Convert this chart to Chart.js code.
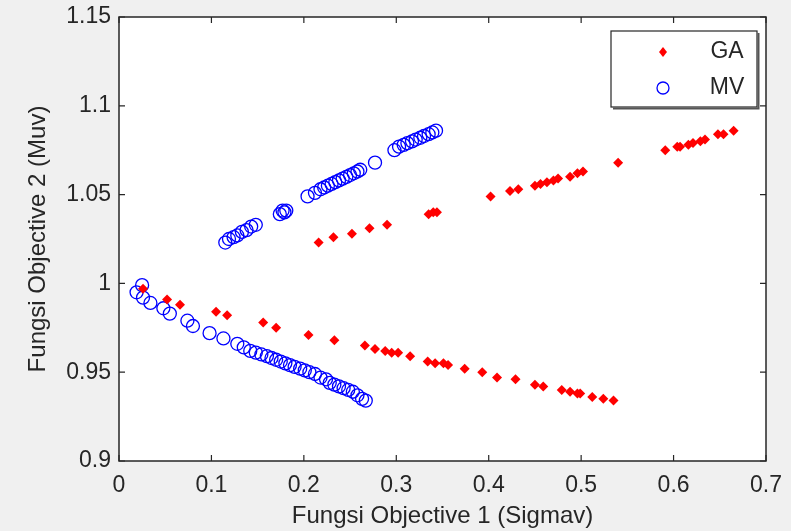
<!DOCTYPE html>
<html lang="en">
<head>
    <meta charset="UTF-8">
    <title>Fungsi Objective GA vs MV</title>
    <script src="https://cdn.jsdelivr.net/npm/chart.js"></script>
    <style>
        html, body { margin: 0; padding: 0; background: #f0f0f0; }
        .box { width: 791px; height: 531px; }
    </style>
</head>
<body>
    <div class="box">
        <canvas id="paretoChart" width="791" height="531"></canvas>
    </div>

    <script>
        // GA front (Sigmav, Muv)
        const gaSigma = [0.216, 0.232, 0.252, 0.271, 0.290, 0.335, 0.340, 0.344, 0.402, 0.423, 0.432, 0.450, 0.456, 0.463, 0.470, 0.475, 0.488, 0.496, 0.502, 0.540, 0.591, 0.604, 0.607, 0.616, 0.621, 0.629, 0.634, 0.648, 0.654, 0.665,
            0.026, 0.052, 0.066, 0.105, 0.117, 0.156, 0.170, 0.205, 0.233, 0.266, 0.277, 0.288, 0.295, 0.302, 0.315, 0.334, 0.342, 0.351, 0.356, 0.374, 0.393, 0.409, 0.429, 0.450, 0.459, 0.479, 0.488, 0.496, 0.499, 0.512, 0.524, 0.535];
        const gaMuv = [1.023, 1.026, 1.028, 1.031, 1.033, 1.039, 1.040, 1.040, 1.049, 1.052, 1.053, 1.055, 1.056, 1.057, 1.058, 1.059, 1.060, 1.062, 1.063, 1.068, 1.075, 1.077, 1.077, 1.078, 1.079, 1.080, 1.081, 1.084, 1.084, 1.086,
            0.997, 0.991, 0.988, 0.984, 0.982, 0.978, 0.975, 0.971, 0.968, 0.965, 0.963, 0.962, 0.961, 0.961, 0.959, 0.956, 0.955, 0.955, 0.954, 0.952, 0.950, 0.947, 0.946, 0.943, 0.942, 0.940, 0.939, 0.938, 0.938, 0.936, 0.935, 0.934];

        // MV front (Sigmav, Muv)
        const mvSigma = [0.115, 0.119, 0.124, 0.128, 0.133, 0.138, 0.143, 0.148, 0.174, 0.177, 0.179, 0.181,
            0.204, 0.212, 0.218, 0.222, 0.226, 0.230, 0.234, 0.238, 0.242, 0.246, 0.250, 0.254, 0.258, 0.261, 0.277,
            0.298, 0.303, 0.308, 0.312, 0.317, 0.321, 0.326, 0.330, 0.335, 0.339, 0.343,
            0.025, 0.019, 0.026, 0.034, 0.048, 0.055, 0.074, 0.080, 0.098, 0.113, 0.128, 0.135, 0.142, 0.148, 0.154, 0.160, 0.165, 0.170, 0.175, 0.180, 0.185, 0.190, 0.196, 0.201, 0.206, 0.212, 0.218, 0.224, 0.228, 0.233, 0.238, 0.243, 0.248, 0.253, 0.258, 0.263, 0.267];
        const mvMuv = [1.023, 1.025, 1.026, 1.027, 1.029, 1.030, 1.032, 1.033, 1.039, 1.041, 1.040, 1.041,
            1.049, 1.051, 1.053, 1.054, 1.055, 1.056, 1.057, 1.058, 1.059, 1.060, 1.061, 1.062, 1.063, 1.064, 1.068,
            1.075, 1.077, 1.078, 1.079, 1.080, 1.081, 1.082, 1.083, 1.084, 1.085, 1.086,
            0.999, 0.995, 0.992, 0.989, 0.986, 0.983, 0.979, 0.976, 0.972, 0.969, 0.966, 0.964, 0.962, 0.961, 0.960, 0.959, 0.958, 0.957, 0.956, 0.955, 0.954, 0.953, 0.952, 0.951, 0.950, 0.949, 0.947, 0.946, 0.944, 0.943, 0.942, 0.941, 0.940, 0.939, 0.937, 0.935, 0.934];

        const xTicks = [0, 0.1, 0.2, 0.3, 0.4, 0.5, 0.6, 0.7];
        const yTicks = [0.9, 0.95, 1, 1.05, 1.1, 1.15];
        const seriesNames = ['GA', 'MV'];

        const fontFamily = '"Liberation Sans Narrow", "Arial Narrow", "Liberation Sans", sans-serif';
        const textColor = '#262626';

        // matlab-like box with inward ticks on all four sides, plus legend
        const axesBox = {
            id: 'axesBox',
            beforeDatasetsDraw(chart) {
                const { ctx, chartArea: a } = chart;
                ctx.save();
                ctx.fillStyle = '#ffffff';
                ctx.fillRect(a.left, a.top, a.right - a.left, a.bottom - a.top);
                ctx.restore();
            },
            afterDraw(chart) {
                const { ctx, chartArea: a, scales } = chart;
                ctx.save();
                ctx.strokeStyle = '#262626';
                ctx.lineWidth = 1.5;
                ctx.strokeRect(a.left, a.top, a.right - a.left, a.bottom - a.top);
                ctx.lineWidth = 1.2;
                ctx.beginPath();
                xTicks.forEach(v => {
                    const x = scales.x.getPixelForValue(v);
                    ctx.moveTo(x, a.bottom); ctx.lineTo(x, a.bottom - 6);
                    ctx.moveTo(x, a.top); ctx.lineTo(x, a.top + 6);
                });
                yTicks.forEach(v => {
                    const y = scales.y.getPixelForValue(v);
                    ctx.moveTo(a.left, y); ctx.lineTo(a.left + 6, y);
                    ctx.moveTo(a.right, y); ctx.lineTo(a.right - 6, y);
                });
                ctx.stroke();

                // legend box
                const lx = 611, ly = 31, lw = 146, lh = 76;
                ctx.fillStyle = '#ffffff';
                ctx.fillRect(lx, ly, lw, lh);
                ctx.lineWidth = 1.2;
                ctx.strokeStyle = '#262626';
                ctx.strokeRect(lx, ly, lw, lh);
                ctx.lineWidth = 2;
                ctx.strokeStyle = '#555555';
                ctx.beginPath();
                ctx.moveTo(lx + 2, ly + lh + 1.5); ctx.lineTo(lx + lw + 1.5, ly + lh + 1.5); ctx.lineTo(lx + lw + 1.5, ly + 2);
                ctx.stroke();

                // GA marker
                ctx.fillStyle = '#ff0000';
                ctx.beginPath();
                ctx.moveTo(663, 47); ctx.lineTo(667, 52); ctx.lineTo(663, 57); ctx.lineTo(659, 52);
                ctx.closePath();
                ctx.fill();
                // MV marker
                ctx.strokeStyle = '#0000ff';
                ctx.lineWidth = 1.3;
                ctx.beginPath();
                ctx.arc(663, 88, 6, 0, Math.PI * 2);
                ctx.stroke();

                ctx.fillStyle = textColor;
                ctx.font = '23px ' + fontFamily;
                ctx.textAlign = 'center';
                ctx.textBaseline = 'middle';
                ctx.fillText(seriesNames[0], 727, 52);
                ctx.fillText(seriesNames[1], 727, 88);
                ctx.restore();
            }
        };

        const toPoints = (xs, ys) => xs.map((x, i) => ({ x: x, y: ys[i] }));

        new Chart(document.getElementById('paretoChart').getContext('2d'), {
            type: 'scatter',
            data: {
                datasets: [
                    {
                        label: seriesNames[0],
                        data: toPoints(gaSigma, gaMuv),
                        pointStyle: 'rectRot',
                        pointRadius: 5,
                        backgroundColor: '#ff0000',
                        borderColor: '#ff0000',
                        borderWidth: 0
                    },
                    {
                        label: seriesNames[1],
                        data: toPoints(mvSigma, mvMuv),
                        pointStyle: 'circle',
                        pointRadius: 6.5,
                        backgroundColor: 'rgba(0,0,0,0)',
                        borderColor: '#0000ff',
                        borderWidth: 1.3
                    }
                ]
            },
            options: {
                responsive: false,
                animation: false,
                layout: { padding: { top: 17, right: 25, left: 0, bottom: 0 } },
                plugins: {
                    legend: { display: false },
                    tooltip: { enabled: false }
                },
                scales: {
                    x: {
                        type: 'linear',
                        min: 0,
                        max: 0.7,
                        afterBuildTicks: s => { s.ticks = xTicks.map(v => ({ value: v })); },
                        afterFit: s => { s.height = 70; },
                        grid: { display: false },
                        border: { display: false },
                        ticks: {
                            color: textColor,
                            padding: 3,
                            font: { family: fontFamily, size: 23 },
                            callback: v => String(v)
                        },
                        title: {
                            display: true,
                            text: 'Fungsi Objective 1 (Sigmav)',
                            color: textColor,
                            font: { family: fontFamily, size: 24 },
                            padding: { top: 0, bottom: 0 }
                        }
                    },
                    y: {
                        type: 'linear',
                        min: 0.9,
                        max: 1.15,
                        afterBuildTicks: s => { s.ticks = yTicks.map(v => ({ value: v })); },
                        afterFit: s => { s.width = 119; },
                        grid: { display: false },
                        border: { display: false },
                        ticks: {
                            color: textColor,
                            padding: 0,
                            font: { family: fontFamily, size: 23 },
                            callback: v => String(v)
                        },
                        title: {
                            display: true,
                            text: 'Fungsi Objective 2 (Muv)',
                            color: textColor,
                            font: { family: fontFamily, size: 24 },
                            padding: { top: 24, bottom: 0 }
                        }
                    }
                }
            },
            plugins: [axesBox]
        });
    </script>
</body>
</html>
